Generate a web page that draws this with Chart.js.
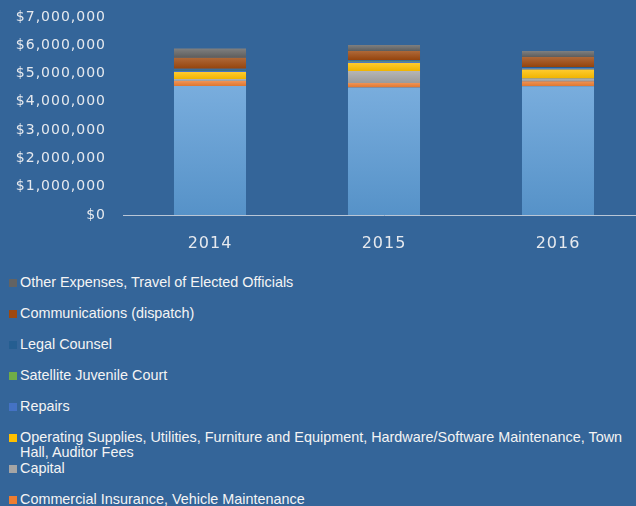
<!DOCTYPE html>
<html>
<head>
<meta charset="utf-8">
<script src="https://cdn.jsdelivr.net/npm/chart.js@4.4.0/dist/chart.umd.min.js"></script>
<style>
  html, body { margin: 0; padding: 0; overflow: hidden; background: #346599; width: 636px; height: 506px; }
  #wrap { position: absolute; left: 0; top: 0; width: 660px; height: 260px; }
  #legend { position: absolute; left: 0; top: 267px; width: 630px; font-family: "Liberation Sans", Arial, sans-serif; font-size: 14.4px; color: #f4f4f4; }
  .item { height: 31px; box-sizing: border-box; padding-top: 8px; display: flex; align-items: flex-start; }
  .sw { width: 8px; height: 8px; margin-left: 9px; margin-right: 3px; margin-top: 4px; flex: none; }
  .tx { line-height: 15px; white-space: normal; }
</style>
</head>
<body>
<div id="wrap"><canvas id="c" width="660" height="260"></canvas></div>
<div id="legend"></div>
<script>
const categories = ["2014", "2015", "2016"];
const yTicks = [0, 1000000, 2000000, 3000000, 4000000, 5000000, 6000000, 7000000];

const seriesNames = [
  "Salaries and Benefits",
  "Commercial Insurance, Vehicle Maintenance",
  "Capital",
  "Operating Supplies, Utilities, Furniture and Equipment, Hardware/Software Maintenance, Town Hall, Auditor Fees",
  "Repairs",
  "Satellite Juvenile Court",
  "Legal Counsel",
  "Communications (dispatch)",
  "Other Expenses, Travel of Elected Officials"
];
const salaries      = [4560000, 4510000, 4550000];
const insurance     = [177000, 160000, 180000];
const capital       = [70000, 420000, 100000];
const operating     = [250000, 280000, 310000];
const repairs       = [35000, 50000, 50000];
const satellite     = [10000, 20000, 10000];
const legal         = [70000, 40000, 35000];
const communications= [390000, 320000, 350000];
const otherExpenses = [320000, 210000, 210000];

const seriesValues = [salaries, insurance, capital, operating, repairs, satellite, legal, communications, otherExpenses];
const seriesColors = ["#5B9BD5", "#ED7D31", "#A5A5A5", "#FFC000", "#4472C4", "#70AD47", "#255E91", "#9E480E", "#636363"];

function mix(hex, t) {
  const n = parseInt(hex.slice(1), 16);
  let r = (n >> 16) & 255, g = (n >> 8) & 255, b = n & 255;
  const target = t > 0 ? 255 : 0, a = Math.abs(t);
  r = Math.round(r + (target - r) * a);
  g = Math.round(g + (target - g) * a);
  b = Math.round(b + (target - b) * a);
  return `rgb(${r},${g},${b})`;
}

function gradientFor(di) {
  return function(ctx) {
    const chart = ctx.chart;
    const base = seriesColors[di];
    if (ctx.type !== 'data' || !chart.chartArea || !chart.scales.y) return base;
    const ys = chart.scales.y;
    let below = 0;
    for (let d = 0; d < di; d++) below += seriesValues[d][ctx.dataIndex];
    const v = seriesValues[di][ctx.dataIndex];
    const top = ys.getPixelForValue(below + v), bot = ys.getPixelForValue(below);
    if (!isFinite(top) || !isFinite(bot) || bot - top < 1) return base;
    const g = chart.ctx.createLinearGradient(0, top, 0, bot);
    g.addColorStop(0, mix(base, 0.18));
    g.addColorStop(1, mix(base, -0.06));
    return g;
  };
}

const datasets = seriesValues.map((vals, i) => ({
  label: seriesNames[i],
  data: vals,
  backgroundColor: gradientFor(i),
  borderWidth: 0,
  barPercentage: 0.414,
  categoryPercentage: 1.0
}));

const spacing = {
  id: 'spacing',
  beforeDraw(chart) { chart.ctx.letterSpacing = '1px'; },
  beforeDatasetsDraw(chart) { chart.ctx.letterSpacing = '0px'; }
};

new Chart(document.getElementById('c'), {
  type: 'bar',
  data: { labels: categories, datasets },
  plugins: [spacing],
  options: {
    responsive: false,
    animation: false,
    layout: { padding: { left: 0, right: 15, top: 17, bottom: 0 } },
    plugins: { legend: { display: false }, tooltip: { enabled: false } },
    scales: {
      x: {
        stacked: true,
        grid: { display: false, drawTicks: false },
        border: { display: true, color: "#b9c6d6", width: 1 },
        ticks: { color: "#e6e9ee", font: { family: "DejaVu Sans", size: 16 }, padding: 19 },
        afterFit: s => { s.height = 45; }
      },
      y: {
        stacked: true,
        min: 0, max: 7000000,
        grid: { display: false, drawTicks: false },
        border: { display: false },
        afterBuildTicks: s => { s.ticks = yTicks.map(v => ({ value: v })); },
        ticks: {
          color: "#e6e9ee",
          font: { family: "DejaVu Sans", size: 14 },
          padding: 17,
          callback: v => "$" + Number(v).toLocaleString("en-US")
        },
        afterFit: s => { s.width = 123; s.paddingTop = 0; s.paddingBottom = 0; }
      }
    }
  }
});

const legend = document.getElementById('legend');
for (let i = seriesNames.length - 1; i >= 0; i--) {
  const it = document.createElement('div');
  it.className = 'item';
  const sw = document.createElement('span');
  sw.className = 'sw';
  sw.style.background = seriesColors[i];
  const tx = document.createElement('span');
  tx.className = 'tx';
  tx.textContent = seriesNames[i];
  it.appendChild(sw); it.appendChild(tx);
  legend.appendChild(it);
}
</script>
</body>
</html>
